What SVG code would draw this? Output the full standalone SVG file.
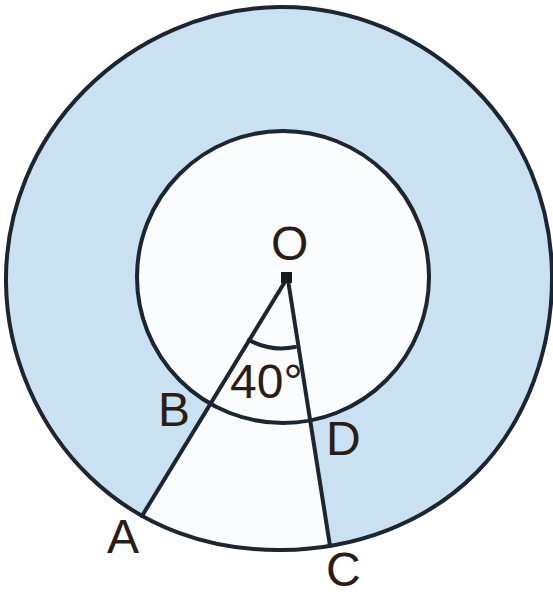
<svg xmlns="http://www.w3.org/2000/svg" width="553" height="596" viewBox="0 0 553 596">
<style>
.ln{fill:none;stroke:#1c2530;stroke-width:4;stroke-linecap:round;stroke-linejoin:round}
.lbl{font-family:"Liberation Sans",Arial,sans-serif;font-size:48px;fill:#2a1c16}
</style>
<defs>
<path id="outer" d="M280 7 C352.8 6.4 422 36.75 473 87 C524 137.25 551.25 202.8 552 275 C552.75 347.2 527.6 420.4 477 472 C426.4 523.6 354.6 549.1 282 550 C209.4 550.9 141.75 527.1 90 477 C38.25 426.9 6.94 355.6 6 283 C5.06 210.4 33.6 141.75 85 90 C136.4 38.25 207.2 7.6 280 7 Z"/>
<clipPath id="clipOuter"><use href="#outer"/></clipPath>
</defs>
<rect width="553" height="596" fill="#ffffff"/>
<g id="annulus">
<use href="#outer" fill="#c9e1f1"/>
<polygon id="sector-fill" fill="#fafcfd" clip-path="url(#clipOuter)" points="286,280 100,587 343,626"/>
<circle id="inner-fill" cx="283" cy="277" r="146" fill="#fafcfd"/>
</g>
<g id="outer-circle">
<use href="#outer" class="ln"/>
</g>
<g id="inner-circle">
<circle class="ln" cx="283" cy="277" r="146"/>
</g>
<g id="connectors">
<line class="ln" x1="286" y1="280" x2="142" y2="516"/>
<line class="ln" x1="288" y1="280" x2="330" y2="546"/>
<path class="ln" stroke-width="3.5" d="M249 340 A68 68 0 0 0 295 347"/>
</g>
<g id="O">
<rect x="281" y="272" width="11" height="11" fill="#1c1a1a"/>
<text class="lbl" x="271" y="260">O</text>
</g>
<g id="angle"><text class="lbl" x="230" y="398" font-size="46">40°</text></g>
<g id="A"><text class="lbl" x="107" y="553">A</text></g>
<g id="B"><text class="lbl" x="158" y="426">B</text></g>
<g id="C"><text class="lbl" x="326" y="586" font-size="46">C</text></g>
<g id="D"><text class="lbl" x="326" y="455">D</text></g>
</svg>
